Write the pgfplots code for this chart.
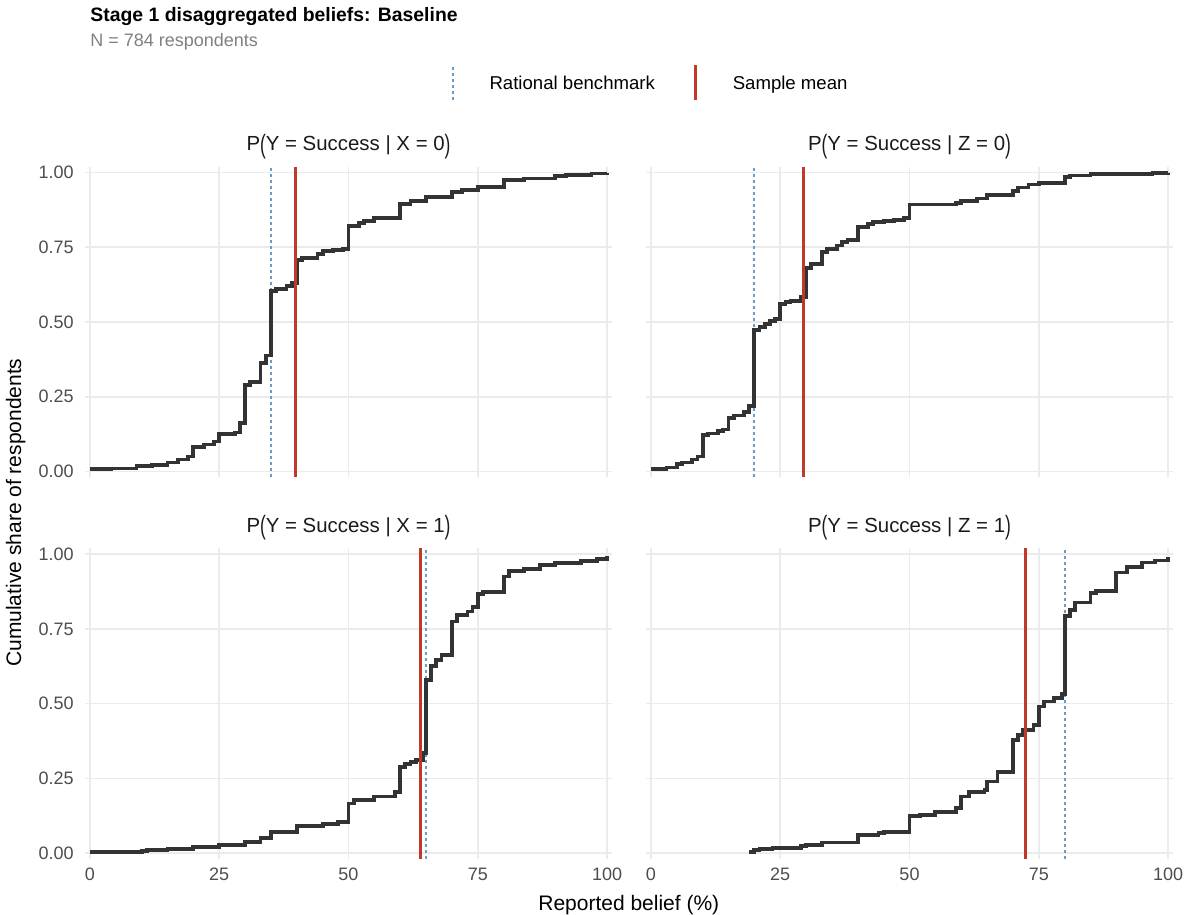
\documentclass[border=0pt]{standalone}
\usepackage{fontspec}
\setmainfont{Liberation Sans}
\usepackage{pgfplots}
\usepackage{pgfplotstable}
\pgfplotsset{compat=1.18}

\definecolor{curvegray}{HTML}{333333}
\definecolor{meanred}{HTML}{C0392B}
\definecolor{benchblue}{HTML}{6E9BC5}
\definecolor{gridgray}{HTML}{EBEBEB}
\definecolor{tickgray}{HTML}{4D4D4D}
\definecolor{subgray}{HTML}{808080}
\definecolor{stripgray}{HTML}{1A1A1A}

% ECDF step points (belief %, cumulative share)
\pgfplotstableread{
x y
0 0.008
4 0.010
9 0.018
12 0.022
15 0.030
17 0.040
19 0.050
20 0.083
22 0.090
24 0.100
25 0.125
28 0.130
29 0.161
30 0.290
31 0.300
33 0.363
34 0.388
35 0.603
36 0.610
38 0.620
39 0.630
40 0.708
41 0.715
44 0.728
45 0.737
47 0.741
49 0.745
50 0.822
52 0.830
53 0.838
55 0.849
60 0.894
62 0.905
65 0.918
70 0.935
72 0.942
75 0.952
80 0.974
84 0.980
90 0.988
92 0.992
97 0.997
100 1.000
}\tlx

\pgfplotstableread{
x y
0 0.007
3 0.013
5 0.025
6 0.030
8 0.040
9 0.050
10 0.123
11 0.127
13 0.134
14 0.140
15 0.179
16 0.187
18 0.200
19 0.220
20 0.474
21 0.483
22 0.494
23 0.503
24 0.510
25 0.559
26 0.566
27 0.570
29 0.583
30 0.682
31 0.695
33 0.734
34 0.745
36 0.756
37 0.768
38 0.775
40 0.818
42 0.829
43 0.834
45 0.838
47 0.842
49 0.849
50 0.893
59 0.897
60 0.905
63 0.913
65 0.924
70 0.939
71 0.950
73 0.960
75 0.965
80 0.985
81 0.990
85 0.996
97 0.999
100 1.000
}\tlz

\pgfplotstableread{
x y
0 0.003
10 0.008
11 0.010
15 0.013
20 0.019
25 0.026
30 0.038
33 0.051
35 0.069
40 0.090
45 0.097
48 0.105
50 0.166
51 0.177
55 0.189
59 0.205
60 0.287
61 0.298
62 0.305
63 0.312
64.5 0.334
65 0.579
66 0.626
67 0.646
68 0.663
70 0.775
71 0.797
73 0.808
74 0.823
75 0.867
76 0.873
80 0.925
81 0.945
84 0.951
87 0.963
90 0.970
95 0.978
98 0.983
100 0.994
}\blx

\pgfplotstableread{
x y
19 0.003
20 0.010
21 0.013
23.5 0.017
29 0.023
30 0.028
33 0.035
40 0.060
44 0.068
45 0.071
50 0.124
52 0.127
55 0.136
59 0.150
60 0.189
61.5 0.203
64.5 0.211
65 0.239
67 0.270
70 0.378
71 0.395
72 0.412
74 0.429
75 0.490
76 0.507
78 0.518
79.5 0.532
80 0.794
81 0.814
82 0.838
85 0.869
86 0.878
90 0.939
92 0.956
95 0.972
97.5 0.979
100 0.992
}\blz

\newcommand{\lp}{\raisebox{-0.12em}{\scalebox{0.85}[1.3]{(}}}
\newcommand{\rp}{\raisebox{-0.12em}{\scalebox{0.85}[1.3]{)}}}

\pgfplotsset{
  panel/.style={
    scale only axis, width=263.7pt, height=155.4pt,
    xmin=-1, xmax=101, ymin=-0.02, ymax=1.02,
    axis line style={draw=none}, major tick length=0pt,
    xtick={0,25,50,75,100}, ytick={0,0.25,0.5,0.75,1},
    xticklabels={0,25,50,75,100},
    yticklabels={0.00,0.25,0.50,0.75,1.00},
    grid=major, major grid style={color=gridgray, line width=0.8pt},
    tick label style={font=\fontsize{9}{10}\selectfont, text=tickgray},
    yticklabel style={inner sep=0pt, anchor=east, xshift=-5.4pt},
    xticklabel style={inner sep=0pt, anchor=north, yshift=-4.5pt},
    title style={font=\fontsize{10.2}{12}\selectfont, text=stripgray,
      at={(0.5,1)}, anchor=base, yshift=1.9pt, inner sep=0pt},
  },
  curve/.style={color=curvegray, line width=1.9pt, const plot, forget plot},
  bench/.style={color=benchblue, line width=0.9pt, dash pattern=on 1.6pt off 1.4pt},
  meanl/.style={color=meanred, line width=1.4pt},
}

\begin{document}
\begin{tikzpicture}
\useasboundingbox (-42.4pt,-28pt) rectangle (550.1pt,429.5pt);

\node[anchor=base west, inner sep=0pt, font=\fontsize{9.7}{11}\selectfont\bfseries]
  at (2.6pt,418.9pt) {Stage 1 disaggregated beliefs: Baseline};
\node[anchor=base west, inner sep=0pt, font=\fontsize{9}{11}\selectfont, text=subgray]
  at (2.6pt,406pt) {N = 784 respondents};

% top left
\begin{axis}[panel, at={(0pt,190.8pt)}, xticklabels={},
  title={P\lp Y = Success | X = 0\rp},
  legend style={at={(1.071,1.27)}, anchor=center, draw=none, fill=none,
    legend columns=2, font=\fontsize{9.3}{11}\selectfont,
    nodes={inner sep=0pt, anchor=base west},
    /tikz/every even column/.append style={column sep=19.5pt}},
  legend image code/.code={\draw[#1] (0pt,-5.5pt) -- (0pt,12pt); \path (18pt,0pt);},
]
\addplot[bench] coordinates {(35,-0.02) (35,1.02)};
\addlegendentry{Rational benchmark}
\addplot[curve] table {\tlx};
\addplot[meanl] coordinates {(39.7,-0.02) (39.7,1.02)};
\addlegendentry{Sample mean}
\end{axis}

% top right
\begin{axis}[panel, at={(280.5pt,190.8pt)}, xticklabels={}, yticklabels={},
  title={P\lp Y = Success | Z = 0\rp}]
\addplot[bench] coordinates {(20,-0.02) (20,1.02)};
\addplot[curve] table {\tlz};
\addplot[meanl] coordinates {(29.5,-0.02) (29.5,1.02)};
\end{axis}

% bottom left
\begin{axis}[panel, at={(0pt,0pt)},
  title={P\lp Y = Success | X = 1\rp}]
\addplot[bench] coordinates {(65,-0.02) (65,1.02)};
\addplot[curve] table {\blx};
\addplot[meanl] coordinates {(63.9,-0.02) (63.9,1.02)};
\end{axis}

% bottom right
\begin{axis}[panel, at={(280.5pt,0pt)}, yticklabels={},
  title={P\lp Y = Success | Z = 1\rp}]
\addplot[bench] coordinates {(80,-0.02) (80,1.02)};
\addplot[curve] table {\blz};
\addplot[meanl] coordinates {(72.5,-0.02) (72.5,1.02)};
\end{axis}

\node[rotate=90, anchor=center, inner sep=0pt, font=\fontsize{10.5}{12}\selectfont]
  at (-34.5pt,173.2pt) {Cumulative share of respondents};
\node[anchor=center, inner sep=0pt, font=\fontsize{10.5}{12}\selectfont]
  at (272pt,-23pt) {Reported belief (\%)};
\end{tikzpicture}
\end{document}
